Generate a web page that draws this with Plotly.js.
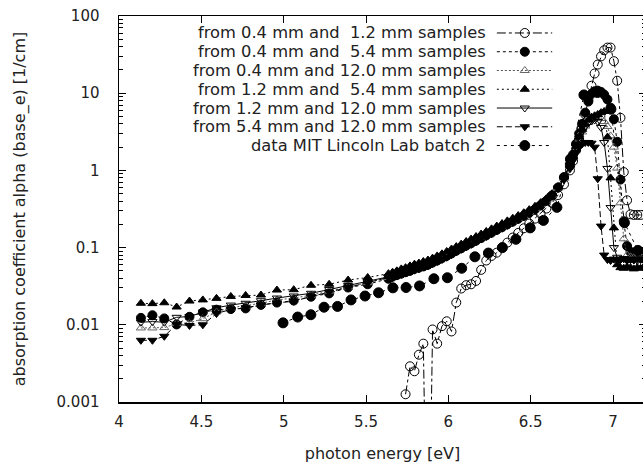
<!DOCTYPE html>
<html>
<head>
<meta charset="utf-8">
<script src="https://cdn.plot.ly/plotly-3.0.1.min.js"></script>
<style>
html,body{margin:0;padding:0;overflow:hidden;background:#fff;}
#chart{width:648px;height:470px;}
</style>
</head>
<body>
<div id="chart"></div>
<script>
// ---------------- data ----------------
const seriesNames = [
  "from 0.4 mm and \u00A01.2 mm samples",
  "from 0.4 mm and \u00A05.4 mm samples",
  "from 0.4 mm and 12.0 mm samples",
  "from 1.2 mm and \u00A05.4 mm samples",
  "from 1.2 mm and 12.0 mm samples",
  "from 5.4 mm and 12.0 mm samples",
  "data MIT Lincoln Lab batch 2"
];

// photon energies [eV], sparse part (shared by the sample-pair series)
const energyLow = [4.133,4.203,4.275,4.350,4.428,4.509,4.592,4.679,4.769,4.862,4.959,5.061,5.166,5.276,5.391,5.510,5.636];
// photon energies [eV], dense part
const energyBand = [5.661,5.687,5.714,5.740,5.767,5.794,5.821,5.848,5.876,5.904,5.932,5.961,5.990,6.019,6.048,6.078,6.108,6.138,6.168,6.199,6.230,6.262,6.294,6.326,6.358,6.391,6.424,6.458,6.491,6.526,6.560,6.595,6.630,6.666,6.702,6.738,6.757,6.775,6.794,6.812,6.831,6.850,6.869,6.888,6.907,6.927,6.946,6.966,6.985,7.005,7.025,7.045,7.065,7.085,7.106,7.126,7.147,7.167,7.188,7.208];

// from 0.4 mm and 1.2 mm (own energy grid)
const energy04_12 = [5.740,5.767,5.794,5.821,5.848,5.876,5.904,5.932,5.961,5.990,6.019,6.048,6.078,6.108,6.138,6.168,6.199,6.230,6.262,6.294,6.326,6.358,6.391,6.424,6.458,6.491,6.526,6.560,6.595,6.630,6.666,6.702,6.738,6.757,6.775,6.794,6.812,6.831,6.850,6.869,6.888,6.907,6.927,6.946,6.966,6.985,7.005,7.025,7.045,7.065,7.085,7.106,7.126,7.147,7.167];
const alpha04_12 = [0.00126,0.0029,0.0025,0.0041,0.0057,0.000001,0.0087,0.0057,0.0096,0.0111,0.0082,0.0194,0.0295,0.0326,0.0335,0.037,0.0515,0.068,0.078,0.086,0.100,0.116,0.135,0.155,0.178,0.205,0.237,0.275,0.320,0.380,0.480,0.66,1.00,1.32,1.82,2.55,3.60,5.30,8.20,12.5,18.0,23.5,30.0,36.0,39.0,39.0,26.0,14.5,4.8,0.95,0.41,0.27,0.265,0.265,0.265];

// from 0.4 mm and 5.4 mm
const alpha04_54Low  = [0.0123,0.0133,0.0121,0.0101,0.0127,0.0145,0.0157,0.0160,0.0163,0.0181,0.0194,0.0206,0.0231,0.0255,0.0304,0.0335,0.0395];
const alpha04_54Band = [0.042,0.044,0.046,0.048,0.050,0.053,0.055,0.057,0.060,0.064,0.068,0.073,0.078,0.084,0.091,0.098,0.106,0.114,0.123,0.133,0.144,0.156,0.170,0.184,0.200,0.217,0.236,0.258,0.283,0.314,0.353,0.403,0.475,0.60,0.82,1.20,1.60,2.20,3.00,4.00,5.60,7.80,9.80,10.6,10.8,10.4,9.6,8.3,6.5,4.6,2.35,0.76,0.22,0.105,0.088,0.086,0.085,0.087,0.084,0.086];

// from 0.4 mm and 12.0 mm
const alpha04_120Low  = [0.0091,0.0091,0.0092,0.0104,0.0106,0.0120,0.0147,0.0166,0.0176,0.0190,0.0210,0.0222,0.0242,0.0272,0.0310,0.0352,0.0410];
const alpha04_120Band = [0.044,0.046,0.048,0.050,0.052,0.055,0.057,0.060,0.062,0.066,0.071,0.076,0.081,0.087,0.094,0.101,0.109,0.118,0.127,0.137,0.149,0.161,0.175,0.189,0.205,0.222,0.241,0.263,0.288,0.320,0.360,0.410,0.480,0.59,0.79,1.14,1.48,1.98,2.55,3.15,3.75,4.20,4.60,4.85,4.90,4.70,4.30,3.70,2.80,2.00,1.07,0.38,0.13,0.080,0.076,0.074,0.077,0.075,0.076,0.074];

// from 1.2 mm and 5.4 mm
const alpha12_54Low  = [0.0190,0.0188,0.0193,0.0170,0.0203,0.0210,0.0220,0.0233,0.0240,0.0243,0.0282,0.0285,0.0325,0.0335,0.0380,0.0410,0.0460];
const alpha12_54Band = [0.048,0.050,0.053,0.055,0.058,0.061,0.063,0.066,0.069,0.073,0.078,0.083,0.089,0.096,0.103,0.111,0.120,0.129,0.139,0.150,0.162,0.175,0.190,0.205,0.222,0.240,0.260,0.283,0.310,0.342,0.382,0.432,0.500,0.62,0.82,1.18,1.55,2.05,2.70,3.40,4.00,4.50,4.90,5.10,5.30,5.60,5.80,2.70,0.80,0.18,0.060,0.055,0.054,0.056,0.055,0.053,0.055,0.054,0.056,0.055];

// from 1.2 mm and 12.0 mm
const alpha12_120Low  = [0.0108,0.0110,0.0108,0.0125,0.0128,0.0146,0.0166,0.0180,0.0190,0.0205,0.0222,0.0236,0.0256,0.0286,0.0322,0.0362,0.0420];
const alpha12_120Band = [0.043,0.045,0.047,0.049,0.051,0.054,0.056,0.058,0.061,0.065,0.069,0.074,0.079,0.085,0.092,0.099,0.107,0.116,0.125,0.135,0.146,0.158,0.172,0.186,0.202,0.219,0.238,0.260,0.285,0.316,0.355,0.405,0.475,0.59,0.79,1.15,1.50,2.00,2.60,3.20,3.70,4.10,4.40,4.50,4.30,3.60,2.30,1.06,0.33,0.100,0.075,0.070,0.072,0.069,0.071,0.070,0.068,0.071,0.069,0.070];

// from 5.4 mm and 12.0 mm
const alpha54_120Low  = [0.0063,0.0063,0.0071,0.0101,0.0098,0.0100,0.0140,0.0158,0.0166,0.0181,0.0192,0.0202,0.0232,0.0266,0.0302,0.0350,0.0410];
const alpha54_120Band = [0.041,0.043,0.045,0.047,0.049,0.051,0.053,0.056,0.058,0.062,0.066,0.070,0.075,0.081,0.088,0.095,0.102,0.110,0.119,0.129,0.139,0.151,0.164,0.178,0.194,0.211,0.229,0.250,0.275,0.305,0.343,0.393,0.463,0.58,0.76,1.05,1.35,1.70,2.00,2.20,2.30,2.30,2.25,2.00,0.78,0.19,0.080,0.070,0.068,0.071,0.069,0.070,0.072,0.068,0.070,0.069,0.071,0.070,0.068,0.070];

// MIT Lincoln Lab batch 2
const energyMIT = [4.996,5.085,5.165,5.245,5.327,5.409,5.494,5.576,5.663,5.743,5.825,5.912,5.994,6.081,6.161,6.243,6.328,6.410,6.497,6.577,6.659,6.741,6.823,6.905,6.987,7.069,7.151];
const alphaMIT  = [0.0106,0.0126,0.0135,0.0169,0.0173,0.0210,0.0236,0.0260,0.0301,0.0304,0.0319,0.0395,0.0407,0.054,0.076,0.085,0.100,0.128,0.180,0.225,0.332,1.4,9.5,10.2,6.2,0.21,0.092];

const yTickVals = [0.001,0.01,0.1,1,10,100];
const yTickText = ["0.001","0.01","0.1","1","10","100"];
const xTickVals = [4,4.5,5,5.5,6,6.5,7];
const xTickText = ["4","4.5","5","5.5","6","6.5","7"];

// ---------------- styles ----------------
const FONT = "DejaVu Sans, Verdana, sans-serif";
const TXT = "#222";
const styles = [
  {symbol:"circle-open",        size:9,  mcolor:"#000", lcolor:"#000", dash:"dashdot"},
  {symbol:"circle",             size:9,  mcolor:"#000", lcolor:"#000", dash:"3px,3px"},
  {symbol:"triangle-up-open",   size:8,  mcolor:"#666", lcolor:"#555", dash:"2px,2px"},
  {symbol:"triangle-up",        size:8,  mcolor:"#000", lcolor:"#000", dash:"2px,3px"},
  {symbol:"triangle-down-open", size:8,  mcolor:"#000", lcolor:"#000", dash:"solid"},
  {symbol:"triangle-down",      size:8,  mcolor:"#000", lcolor:"#000", dash:"6px,3px"},
  {symbol:"circle",             size:10, mcolor:"#000", lcolor:"#000", dash:"3px,4px"}
];

const energyAll = energyLow.concat(energyBand);
const seriesData = [
  [energy04_12, alpha04_12],
  [energyAll, alpha04_54Low.concat(alpha04_54Band)],
  [energyAll, alpha04_120Low.concat(alpha04_120Band)],
  [energyAll, alpha12_54Low.concat(alpha12_54Band)],
  [energyAll, alpha12_120Low.concat(alpha12_120Band)],
  [energyAll, alpha54_120Low.concat(alpha54_120Band)],
  [energyMIT, alphaMIT]
];

const traces = [];
seriesData.forEach((d, i) => {
  const s = styles[i];
  traces.push({
    type: "scatter", mode: "lines+markers",
    x: d[0], y: d[1], name: seriesNames[i], showlegend: false,
    line: {color: s.lcolor, width: 1, dash: s.dash},
    marker: {symbol: s.symbol, size: s.size, color: s.mcolor, line: {color: s.mcolor, width: 1}},
    hoverinfo: "skip"
  });
});

// ---------------- custom legend (text left, sample right) ----------------
const legTextX = 0.698, legLineX0 = 0.717, legLineX1 = 0.822, legMarkX = 0.770;
const legRowTop = 0.956, legRowStep = 0.0486;
const annotations = [];
seriesNames.forEach((nm, i) => {
  const s = styles[i];
  const yy = legRowTop - i * legRowStep;
  annotations.push({xref:"paper", yref:"paper", x:legTextX, y:yy, xanchor:"right", yanchor:"middle",
    text:nm, showarrow:false, font:{family:FONT, size:16.3, color:TXT}, borderpad:0});
  traces.push({type:"scatter", mode:"lines", xaxis:"x2", yaxis:"y2", x:[legLineX0, legLineX1], y:[yy, yy],
    line:{color:s.lcolor, width:1, dash:s.dash}, showlegend:false, hoverinfo:"skip"});
  traces.push({type:"scatter", mode:"markers", xaxis:"x2", yaxis:"y2", x:[legMarkX], y:[yy],
    marker:{symbol:s.symbol, size:s.size, color:s.mcolor, line:{color:s.mcolor, width:1}},
    showlegend:false, hoverinfo:"skip"});
});

// minor ticks for log y
const yMinor = [];
[0.001,0.01,0.1,1,10].forEach(d => { for (let k = 2; k <= 9; k++) yMinor.push(d * k); });

const layout = {
  width: 648, height: 470,
  margin: {l: 119, r: 2, t: 16, b: 68},
  paper_bgcolor: "#fff", plot_bgcolor: "#fff",
  font: {family: FONT, color: TXT, size: 15},
  showlegend: false,
  xaxis: {
    range: [4, 7.2], tickmode: "array", tickvals: xTickVals, ticktext: xTickText,
    ticks: "inside", ticklen: 7, tickcolor: "#000", tickwidth: 1,
    showline: true, linecolor: "#000", linewidth: 1.5, mirror: "ticks",
    showgrid: false, zeroline: false, ticklabelstandoff: 5,
    tickfont: {family: FONT, size: 15, color: TXT},
    title: {text: "photon energy [eV]", font: {family: FONT, size: 16, color: TXT}, standoff: 18}
  },
  yaxis: {
    type: "log", range: [-3, 2], tickmode: "array", tickvals: yTickVals, ticktext: yTickText,
    ticks: "inside", ticklen: 7, tickcolor: "#000", tickwidth: 1,
    minor: {tickmode: "array", tickvals: yMinor, ticks: "inside", ticklen: 4, tickcolor: "#000", showgrid: false},
    showline: true, linecolor: "#000", linewidth: 1.5, mirror: "ticks",
    showgrid: false, zeroline: false, ticklabelstandoff: 15,
    tickfont: {family: FONT, size: 15, color: TXT},
    title: {text: "absorption coefficient alpha (base_e) [1/cm]", font: {family: FONT, size: 16, color: TXT}, standoff: 27}
  },
  xaxis2: {overlaying: "x", range: [0, 1], visible: false, fixedrange: true},
  yaxis2: {overlaying: "y", range: [0, 1], visible: false, fixedrange: true},
  annotations: annotations
};

Plotly.newPlot("chart", traces, layout, {staticPlot: true, displayModeBar: false});
</script>
</body>
</html>
